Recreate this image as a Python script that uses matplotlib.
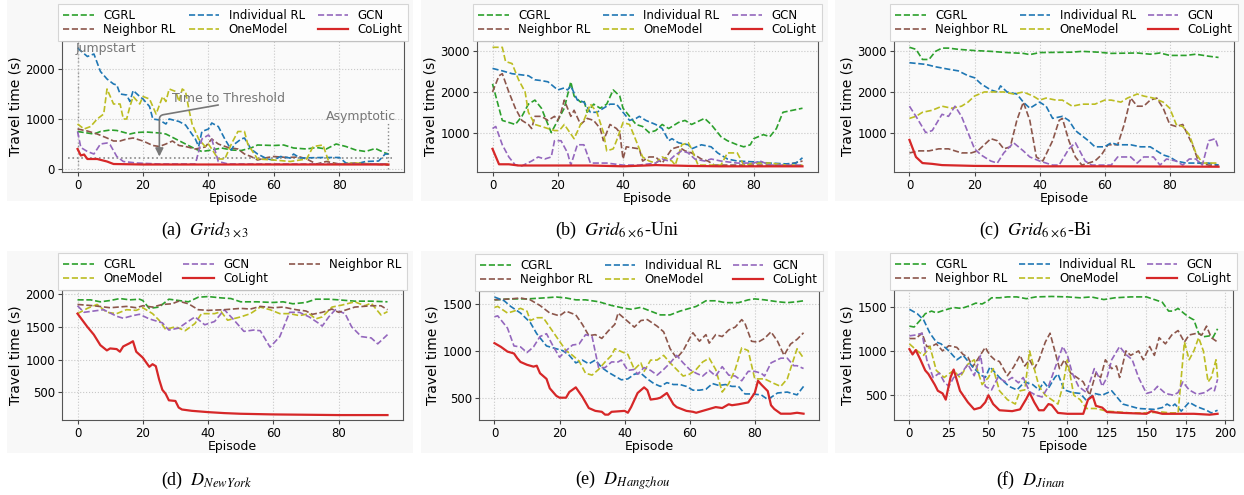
import numpy as np
import matplotlib
matplotlib.use('Agg')
import matplotlib.pyplot as plt
from matplotlib.patches import Rectangle

plt.rcParams['mathtext.fontset'] = 'stix'

# ---- data: (episode, travel time) key points ----
# (a) Grid 3x3
a_cgrl = [(0, 750), (3, 720), (5, 700), (7, 750), (10, 780), (12, 770), (16, 700), (18, 730), (21, 740),
          (25, 720), (27, 700), (30, 600), (33, 500), (36, 400), (38, 350), (41, 380), (44, 420), (47, 380),
          (50, 370), (53, 420), (55, 480), (60, 470), (63, 480), (66, 420), (70, 400), (73, 430), (76, 400),
          (79, 500), (82, 450), (85, 380), (88, 350), (91, 410), (94, 320), (95, 300)]
a_neighbor = [(0, 800), (3, 760), (6, 700), (9, 620), (11, 560), (13, 560), (15, 600), (17, 620), (20, 560),
              (23, 470), (25, 450), (27, 500), (29, 560), (31, 470), (33, 450), (36, 400), (39, 440), (41, 600),
              (43, 500), (46, 430), (49, 400), (51, 300), (53, 250), (55, 180), (58, 230), (60, 250), (64, 230),
              (68, 240), (70, 200), (73, 100), (76, 150), (80, 100), (85, 120), (90, 100), (95, 80)]
a_individual = [(0, 2420), (3, 2250), (5, 2300), (7, 1950), (9, 1800), (11, 1700), (12, 1680), (13, 1500),
                (15, 1480), (16, 1350), (17, 1570), (19, 1450), (20, 1400), (22, 1250), (23, 1000), (25, 980),
                (27, 900), (28, 1000), (31, 950), (33, 880), (36, 600), (37, 450), (38, 750), (40, 800),
                (41, 920), (43, 850), (45, 600), (47, 380), (48, 500), (50, 600), (51, 620), (53, 400),
                (55, 300), (58, 200), (60, 180), (62, 250), (65, 220), (66, 300), (68, 220), (75, 230),
                (80, 230), (82, 120), (85, 100), (88, 150), (92, 160), (94, 300), (95, 300)]
a_onemodel = [(0, 900), (2, 800), (4, 850), (6, 1000), (8, 1100), (9, 1600), (11, 1300), (13, 1300), (14, 1000),
              (15, 1000), (16, 1250), (17, 1450), (19, 1300), (20, 1450), (22, 1400), (24, 1100), (26, 1450),
              (27, 1350), (28, 1600), (30, 1550), (31, 1350), (32, 1600), (33, 1550), (34, 1200), (35, 900),
              (37, 600), (39, 450), (40, 500), (41, 400), (43, 200), (45, 200), (47, 500), (49, 750), (51, 750),
              (52, 500), (55, 200), (60, 180), (65, 150), (70, 200), (72, 450), (75, 480), (77, 100), (80, 100),
              (85, 120), (90, 100), (95, 100)]
a_gcn = [(0, 750), (1, 430), (3, 350), (5, 300), (7, 500), (9, 520), (10, 480), (12, 250), (14, 150), (18, 120),
         (25, 100), (36, 100), (38, 600), (40, 680), (41, 600), (43, 150), (46, 100), (60, 100), (95, 100)]
a_colight = [(0, 400), (1, 270), (2, 290), (3, 200), (6, 200), (9, 150), (11, 100), (20, 90), (50, 90), (95, 90)]

# (b) Grid 6x6-Uni
b_cgrl = [(0, 2200), (1, 1900), (3, 1300), (5, 1250), (7, 1200), (9, 1400), (11, 1700), (13, 1800), (15, 1600),
          (18, 1000), (20, 1300), (22, 1600), (24, 2250), (25, 1900), (27, 1750), (28, 1800), (29, 1500),
          (31, 1700), (33, 1600), (35, 1700), (37, 2050), (39, 1900), (40, 1600), (42, 1400), (44, 1200),
          (46, 1150), (48, 1000), (50, 1050), (52, 1200), (54, 1100), (57, 1250), (59, 1300), (61, 1200),
          (65, 1350), (67, 1200), (70, 900), (72, 800), (75, 700), (77, 650), (79, 700), (80, 850), (83, 950),
          (85, 900), (87, 1100), (89, 1500), (92, 1550), (95, 1600)]
b_neighbor = [(0, 2000), (2, 2400), (3, 2450), (5, 2000), (7, 1600), (9, 1300), (11, 1200), (12, 1100),
              (13, 1400), (15, 1400), (17, 1300), (19, 1400), (20, 1300), (21, 1500), (22, 1800), (24, 1400),
              (25, 1550), (27, 1200), (29, 1350), (31, 1300), (33, 1100), (34, 800), (36, 1200), (38, 1100),
              (39, 1000), (40, 350), (41, 650), (45, 600), (46, 300), (48, 400), (50, 400), (52, 250), (55, 600),
              (57, 650), (59, 550), (61, 500), (64, 350), (66, 300), (68, 200), (75, 200), (80, 200), (90, 200),
              (95, 300)]
b_individual = [(0, 2580), (3, 2520), (6, 2450), (9, 2420), (11, 2400), (13, 2300), (15, 2280), (17, 2250),
                (20, 2050), (22, 2100), (23, 2050), (24, 2150), (26, 1800), (28, 1750), (30, 1500), (32, 1500),
                (34, 1600), (36, 1700), (38, 1700), (40, 1500), (42, 1300), (44, 1350), (45, 1400), (47, 1300),
                (50, 1200), (52, 1100), (54, 800), (55, 850), (57, 750), (60, 700), (61, 600), (64, 700),
                (67, 650), (69, 500), (72, 350), (75, 300), (80, 280), (85, 250), (90, 230), (93, 250), (95, 380)]
b_onemodel = [(0, 3100), (3, 3100), (4, 2750), (6, 2700), (8, 2300), (10, 2000), (11, 1500), (13, 1200),
              (15, 1150), (17, 1100), (19, 1050), (20, 1050), (21, 1100), (22, 1200), (25, 850), (27, 1200),
              (28, 1300), (30, 1700), (32, 1500), (34, 1000), (35, 550), (37, 600), (38, 800), (40, 1250),
              (42, 1200), (44, 800), (46, 400), (48, 300), (50, 250), (52, 400), (55, 300), (56, 200), (58, 700),
              (60, 750), (61, 600), (63, 200), (70, 200), (72, 500), (75, 500), (77, 200), (80, 250), (85, 250),
              (90, 200), (95, 200)]
b_gcn = [(0, 1100), (1, 1150), (3, 700), (5, 400), (7, 200), (9, 180), (12, 300), (14, 400), (16, 350), (18, 400),
         (19, 800), (21, 800), (23, 500), (24, 200), (26, 700), (28, 700), (30, 250), (35, 250), (40, 200),
         (45, 200), (50, 250), (52, 350), (54, 300), (56, 450), (58, 550), (60, 500), (62, 350), (65, 300),
         (67, 350), (70, 300), (75, 250), (80, 250), (82, 300), (85, 200), (95, 200)]
b_colight = [(0, 600), (2, 220), (5, 220), (8, 190), (20, 190), (30, 190), (40, 170), (50, 200), (60, 180),
             (70, 170), (95, 170)]

# (c) Grid 6x6-Bi
c_cgrl = [(0, 3100), (2, 3050), (4, 2800), (6, 2800), (8, 3000), (10, 3080), (12, 3080), (15, 3050), (20, 3020),
          (25, 3000), (30, 2970), (35, 2950), (37, 2920), (40, 2970), (50, 2980), (53, 3000), (58, 2980),
          (62, 2950), (70, 2960), (74, 2930), (77, 2960), (80, 2900), (85, 2900), (88, 2930), (92, 2880), (95, 2850)]
c_neighbor = [(0, 500), (3, 550), (6, 550), (9, 600), (12, 600), (16, 500), (19, 500), (21, 550), (23, 700),
              (25, 850), (27, 800), (29, 600), (31, 650), (33, 1300), (35, 1750), (37, 1300), (39, 400), (41, 300),
              (44, 800), (46, 1300), (47, 1350), (49, 800), (51, 400), (53, 200), (55, 250), (57, 300), (59, 450),
              (61, 700), (64, 700), (66, 1200), (68, 1850), (70, 1650), (72, 1650), (74, 1800), (76, 1850),
              (78, 1600), (80, 1200), (82, 1150), (84, 1200), (87, 700), (89, 250), (92, 200), (95, 200)]
c_individual = [(0, 2720), (5, 2680), (8, 2620), (12, 2560), (15, 2520), (18, 2400), (20, 2350), (22, 2200),
                (25, 2050), (27, 2000), (28, 2150), (30, 2000), (33, 1950), (35, 1750), (37, 1600), (40, 1750),
                (42, 1650), (44, 1350), (47, 1400), (49, 1300), (51, 1050), (55, 800), (57, 650), (60, 650),
                (62, 750), (64, 700), (68, 700), (71, 650), (74, 650), (76, 550), (78, 450), (80, 400), (82, 300),
                (85, 250), (88, 250), (92, 250), (95, 200)]
c_onemodel = [(0, 1350), (2, 1400), (4, 1500), (7, 1550), (10, 1650), (13, 1600), (16, 1650), (18, 1750),
              (20, 1900), (23, 2000), (26, 2000), (29, 2000), (32, 1950), (35, 2000), (38, 1900), (40, 1800),
              (42, 1850), (45, 1800), (47, 1800), (50, 1650), (53, 1700), (57, 1700), (60, 1800), (62, 1800),
              (65, 1750), (67, 1850), (70, 1950), (72, 1900), (75, 1850), (78, 1750), (80, 1600), (82, 1200),
              (84, 1150), (86, 950), (88, 500), (90, 250), (95, 250)]
c_gcn = [(0, 1650), (2, 1400), (5, 1000), (7, 1050), (10, 1450), (12, 1400), (14, 1650), (16, 1400), (18, 1000),
         (20, 600), (22, 450), (25, 300), (27, 250), (29, 500), (32, 750), (35, 550), (37, 400), (40, 300),
         (44, 200), (46, 200), (49, 600), (51, 750), (54, 300), (56, 200), (62, 200), (64, 400), (68, 400),
         (70, 250), (72, 400), (75, 400), (77, 200), (79, 350), (82, 300), (84, 200), (86, 350), (88, 350),
         (90, 200), (92, 800), (94, 850), (95, 600)]
c_colight = [(0, 820), (2, 400), (4, 250), (7, 230), (10, 200), (20, 180), (40, 170), (60, 170), (95, 160)]

# (d) New York
d_cgrl = [(0, 1910), (4, 1910), (7, 1880), (10, 1900), (13, 1930), (16, 1910), (19, 1920), (20, 1900), (22, 1780),
          (25, 1800), (28, 1920), (31, 1900), (34, 1880), (37, 1950), (40, 1960), (44, 1940), (47, 1930),
          (50, 1880), (55, 1880), (60, 1870), (63, 1880), (66, 1850), (70, 1870), (73, 1920), (77, 1920),
          (80, 1910), (85, 1890), (90, 1890), (95, 1880)]
d_onemodel = [(0, 1700), (3, 1780), (6, 1840), (9, 1720), (12, 1700), (15, 1760), (18, 1750), (20, 1790),
              (23, 1700), (25, 1600), (27, 1460), (30, 1500), (33, 1440), (36, 1550), (38, 1700), (42, 1700),
              (44, 1730), (46, 1600), (50, 1650), (53, 1700), (56, 1800), (59, 1760), (62, 1700), (65, 1700),
              (68, 1670), (71, 1700), (73, 1620), (75, 1650), (78, 1800), (81, 1830), (85, 1880), (88, 1820),
              (90, 1860), (93, 1680), (95, 1730)]
d_gcn = [(0, 1820), (2, 1720), (5, 1740), (8, 1760), (12, 1660), (14, 1630), (17, 1670), (19, 1690), (22, 1620),
         (26, 1560), (28, 1450), (31, 1480), (33, 1550), (36, 1650), (39, 1530), (42, 1580), (45, 1760),
         (48, 1600), (51, 1430), (54, 1450), (56, 1440), (59, 1190), (62, 1350), (65, 1720), (68, 1720),
         (71, 1650), (74, 1550), (75, 1510), (77, 1650), (79, 1760), (82, 1700), (84, 1500), (87, 1350),
         (90, 1330), (92, 1240), (95, 1380)]
d_colight = [(0, 1700), (3, 1500), (5, 1380), (7, 1220), (9, 1140), (10, 1170), (12, 1160), (13, 1120),
             (14, 1200), (16, 1250), (17, 1280), (18, 1120), (20, 1030), (22, 890), (23, 930), (24, 900),
             (25, 700), (26, 540), (27, 480), (28, 380), (30, 370), (31, 270), (32, 240), (35, 220), (40, 200),
             (45, 185), (50, 175), (60, 165), (70, 160), (80, 155), (95, 155)]
d_neighbor = [(0, 1840), (5, 1820), (10, 1790), (15, 1810), (18, 1790), (20, 1820), (23, 1800), (26, 1840),
              (29, 1850), (31, 1890), (34, 1850), (37, 1760), (40, 1750), (45, 1760), (50, 1780), (53, 1770),
              (56, 1810), (60, 1790), (63, 1800), (67, 1760), (70, 1740), (72, 1690), (75, 1720), (78, 1770),
              (80, 1720), (85, 1800), (90, 1820), (93, 1820), (95, 1760)]

# (e) Hangzhou
e_cgrl = [(0, 1540), (5, 1550), (10, 1550), (15, 1560), (19, 1570), (22, 1560), (25, 1540), (28, 1540),
          (32, 1520), (36, 1480), (40, 1450), (42, 1440), (45, 1460), (48, 1420), (51, 1380), (54, 1380),
          (57, 1420), (60, 1450), (62, 1470), (65, 1530), (68, 1530), (71, 1510), (75, 1510), (78, 1540),
          (80, 1550), (83, 1540), (87, 1520), (90, 1510), (93, 1520), (95, 1530)]
e_neighbor = [(0, 1540), (5, 1550), (8, 1560), (11, 1540), (14, 1480), (17, 1400), (20, 1370), (22, 1420),
              (25, 1380), (27, 1280), (29, 1160), (31, 1170), (33, 1130), (35, 1210), (37, 1280), (38, 1400),
              (41, 1310), (43, 1250), (45, 1320), (47, 1330), (50, 1260), (52, 1200), (54, 1020), (56, 920),
              (58, 1000), (60, 1130), (61, 1190), (63, 1100), (65, 1170), (66, 1080), (68, 1170), (70, 1150),
              (72, 1220), (74, 1250), (76, 1330), (77, 1290), (79, 1100), (81, 1090), (83, 1130), (85, 1200),
              (87, 1100), (89, 950), (91, 1070), (93, 1120), (95, 1190)]
e_individual = [(0, 1570), (3, 1530), (5, 1470), (8, 1400), (11, 1300), (13, 1180), (16, 1050), (19, 1020),
                (21, 1000), (23, 950), (25, 870), (27, 900), (29, 860), (31, 900), (33, 820), (35, 770),
                (37, 730), (39, 690), (41, 700), (43, 750), (45, 760), (47, 700), (49, 650), (51, 620), (53, 660),
                (55, 640), (57, 640), (59, 620), (61, 580), (63, 580), (65, 590), (67, 650), (69, 630), (71, 640),
                (73, 620), (75, 620), (77, 540), (79, 540), (82, 530), (84, 480), (87, 550), (90, 560),
                (93, 530), (95, 620)]
e_onemodel = [(0, 1460), (1, 1470), (4, 1400), (6, 1420), (8, 1450), (10, 1420), (11, 1320), (13, 1350),
              (15, 1350), (17, 1250), (20, 1100), (22, 1000), (24, 950), (26, 890), (28, 760), (30, 740),
              (32, 800), (34, 880), (36, 950), (37, 1020), (39, 990), (41, 960), (43, 800), (45, 870), (46, 780),
              (48, 900), (50, 900), (52, 950), (54, 870), (56, 800), (58, 730), (60, 750), (62, 800), (64, 880),
              (66, 920), (68, 800), (70, 560), (72, 650), (74, 800), (76, 1030), (78, 1000), (80, 700),
              (83, 700), (86, 650), (88, 620), (90, 700), (93, 1020), (95, 920)]
e_gcn = [(0, 1360), (1, 1370), (4, 1240), (6, 1050), (8, 1040), (10, 980), (12, 1040), (14, 1150), (16, 1180),
         (18, 1050), (20, 930), (22, 1000), (24, 1060), (26, 1070), (28, 1170), (30, 1150), (32, 820), (34, 820),
         (36, 880), (38, 880), (39, 900), (41, 790), (43, 800), (44, 750), (46, 820), (48, 790), (50, 740),
         (52, 800), (54, 870), (56, 950), (58, 870), (60, 800), (62, 760), (64, 730), (66, 790), (68, 730),
         (70, 830), (72, 740), (74, 730), (76, 680), (78, 780), (80, 780), (82, 760), (83, 730), (85, 870),
         (88, 920), (90, 920), (92, 840), (93, 840), (95, 810)]
e_colight = [(0, 1080), (2, 1040), (4, 990), (6, 970), (7, 920), (8, 880), (10, 850), (12, 830), (13, 840),
             (14, 760), (16, 700), (17, 600), (19, 520), (20, 500), (22, 500), (23, 560), (25, 610), (27, 510),
             (29, 390), (31, 360), (33, 350), (34, 320), (35, 320), (36, 350), (40, 360), (41, 340), (42, 400),
             (44, 550), (46, 610), (47, 580), (48, 480), (50, 490), (51, 500), (53, 550), (55, 430), (56, 400),
             (59, 360), (61, 350), (62, 340), (64, 360), (66, 380), (68, 400), (70, 390), (72, 430), (73, 420),
             (75, 430), (78, 450), (80, 550), (81, 680), (82, 640), (84, 570), (85, 420), (86, 380), (88, 330),
             (91, 330), (93, 340), (95, 330)]

# (f) Jinan
f_cgrl = [(0, 1280), (3, 1270), (7, 1350), (10, 1420), (14, 1450), (17, 1430), (22, 1460), (28, 1490),
          (33, 1480), (38, 1510), (42, 1540), (46, 1530), (50, 1570), (52, 1600), (57, 1600), (62, 1610),
          (68, 1610), (74, 1590), (80, 1610), (90, 1615), (100, 1610), (108, 1600), (115, 1610), (123, 1580),
          (130, 1600), (140, 1610), (150, 1610), (155, 1580), (160, 1550), (164, 1450), (167, 1450),
          (170, 1480), (174, 1420), (177, 1380), (180, 1350), (183, 1200), (186, 1160), (190, 1170),
          (192, 1150), (195, 1250)]
f_neighbor = [(0, 1140), (4, 1140), (8, 1200), (11, 1050), (14, 1050), (17, 1080), (21, 1000), (25, 1060),
              (30, 1040), (34, 960), (37, 930), (40, 820), (43, 900), (48, 1040), (51, 950), (54, 900),
              (57, 880), (62, 720), (66, 820), (70, 950), (73, 830), (76, 900), (79, 800), (82, 900),
              (86, 1100), (89, 1200), (92, 1000), (95, 800), (98, 900), (102, 750), (106, 700), (110, 650),
              (114, 500), (118, 750), (121, 700), (124, 900), (128, 800), (131, 830), (133, 700), (137, 1000),
              (140, 950), (145, 1000), (148, 900), (152, 1050), (155, 950), (158, 1150), (162, 1080),
              (166, 1180), (170, 1230), (174, 1100), (177, 1180), (182, 1200), (185, 1180), (188, 1280),
              (191, 1150), (195, 1100)]
f_individual = [(0, 1470), (5, 1420), (9, 1350), (13, 1200), (17, 1100), (20, 1080), (25, 1000), (30, 900),
                (34, 950), (40, 820), (45, 730), (48, 700), (51, 820), (57, 700), (63, 600), (68, 560),
                (73, 650), (78, 620), (82, 560), (85, 650), (88, 580), (92, 700), (94, 740), (98, 560),
                (103, 530), (108, 520), (112, 440), (117, 520), (122, 500), (128, 550), (135, 400), (145, 350),
                (155, 340), (160, 360), (163, 400), (166, 370), (168, 400), (172, 320), (177, 420), (182, 370),
                (188, 330), (191, 300), (195, 330)]
f_onemodel = [(0, 1080), (5, 1000), (9, 950), (13, 1050), (17, 780), (22, 700), (28, 780), (32, 700),
              (37, 850), (41, 900), (46, 620), (50, 700), (53, 800), (57, 550), (62, 450), (67, 400), (70, 550),
              (73, 560), (76, 1000), (79, 800), (82, 600), (86, 500), (90, 450), (94, 400), (97, 600),
              (100, 900), (104, 500), (108, 450), (112, 350), (118, 350), (125, 320), (140, 300), (150, 300),
              (160, 310), (165, 300), (170, 300), (174, 1100), (177, 900), (180, 1000), (183, 1150),
              (186, 1000), (189, 650), (191, 700), (194, 900), (195, 700)]
f_gcn = [(0, 1170), (4, 1180), (8, 1200), (11, 900), (15, 700), (19, 750), (22, 650), (25, 600), (28, 700),
         (33, 750), (37, 850), (41, 720), (45, 950), (48, 600), (52, 560), (56, 700), (61, 650), (65, 700),
         (69, 640), (72, 700), (76, 540), (80, 500), (84, 480), (88, 600), (92, 800), (97, 1050), (100, 950),
         (103, 750), (107, 600), (112, 530), (117, 800), (120, 700), (122, 600), (125, 700), (128, 900),
         (133, 1050), (137, 960), (141, 900), (145, 700), (150, 520), (154, 540), (157, 600), (162, 520),
         (167, 500), (170, 530), (173, 650), (177, 560), (182, 510), (187, 530), (191, 580), (193, 550),
         (195, 680)]
f_colight = [(0, 1020), (2, 960), (4, 1010), (7, 900), (10, 780), (12, 740), (16, 620), (18, 550), (21, 520),
             (23, 450), (26, 700), (28, 790), (32, 550), (37, 420), (41, 340), (45, 360), (48, 420), (50, 500),
             (53, 400), (57, 330), (65, 320), (70, 340), (74, 460), (76, 530), (79, 420), (82, 330), (85, 330),
             (88, 400), (90, 390), (94, 300), (100, 290), (110, 290), (113, 450), (116, 490), (118, 380),
             (122, 360), (125, 310), (135, 300), (150, 290), (153, 320), (160, 290), (180, 290), (190, 280),
             (195, 290)]

STYLE = {
    'CGRL': ('tab:green', '--'),
    'Neighbor RL': ('tab:brown', '--'),
    'Individual RL': ('tab:blue', '--'),
    'OneModel': ('tab:olive', '--'),
    'GCN': ('tab:purple', '--'),
    'CoLight': ('tab:red', '-'),
}

W, H = 1244, 495
fig = plt.figure(figsize=(W / 100, H / 100), dpi=100)

# light grey backdrop behind each sub-figure
for (x0, y0, x1, y1) in [(7, 0, 413, 201), (421, 0, 828, 201), (835, 0, 1244, 201),
                         (7, 251, 413, 453), (421, 251, 828, 453), (835, 251, 1244, 453)]:
    fig.patches.append(Rectangle((x0 / W, 1 - y1 / H), (x1 - x0) / W, (y1 - y0) / H,
                                 transform=fig.transFigure, facecolor='#f8f8f8',
                                 edgecolor='none', zorder=-10))


def px_axes(left, right, top, bottom):
    return fig.add_axes([left / W, 1 - bottom / H, (right - left) / W, (bottom - top) / H])


panels = [
    dict(box=(62, 404, 41, 172), ylim=(-60, 2560), xlim=(-4.75, 99.75),
         series=[('CGRL', a_cgrl), ('Neighbor RL', a_neighbor), ('Individual RL', a_individual),
                 ('OneModel', a_onemodel), ('GCN', a_gcn), ('CoLight', a_colight)],
         caption=r'(a)  $Grid_{3\times3}$', cap=(205, 230)),
    dict(box=(477, 818, 41, 172), ylim=(30, 3255), xlim=(-4.75, 99.75),
         series=[('CGRL', b_cgrl), ('Neighbor RL', b_neighbor), ('Individual RL', b_individual),
                 ('OneModel', b_onemodel), ('GCN', b_gcn), ('CoLight', b_colight)],
         caption=r'(b)  $Grid_{6\times6}$-Uni', cap=(617, 230)),
    dict(box=(894, 1234, 41, 172), ylim=(30, 3255), xlim=(-4.75, 99.75),
         series=[('CGRL', c_cgrl), ('Neighbor RL', c_neighbor), ('Individual RL', c_individual),
                 ('OneModel', c_onemodel), ('GCN', c_gcn), ('CoLight', c_colight)],
         caption=r'(c)  $Grid_{6\times6}$-Bi', cap=(1035, 230)),
    dict(box=(62, 403, 290, 420), ylim=(80, 2060), xlim=(-4.75, 99.75),
         series=[('CGRL', d_cgrl), ('OneModel', d_onemodel), ('GCN', d_gcn),
                 ('CoLight', d_colight), ('Neighbor RL', d_neighbor)],
         caption=r'(d)  $D_{NewYork}$', cap=(207, 480)),
    dict(box=(479, 819, 291, 420), ylim=(263, 1634), xlim=(-4.75, 99.75),
         series=[('CGRL', e_cgrl), ('Neighbor RL', e_neighbor), ('Individual RL', e_individual),
                 ('OneModel', e_onemodel), ('GCN', e_gcn), ('CoLight', e_colight)],
         caption=r'(e)  $D_{Hangzhou}$', cap=(623, 480)),
    dict(box=(894, 1233, 290, 420), ylim=(220, 1688), xlim=(-9.75, 204.75),
         series=[('CGRL', f_cgrl), ('Neighbor RL', f_neighbor), ('Individual RL', f_individual),
                 ('OneModel', f_onemodel), ('GCN', f_gcn), ('CoLight', f_colight)],
         caption=r'(f)  $D_{Jinan}$', cap=(1031, 480)),
]

axes = []
for p in panels:
    ax = px_axes(*p['box'])
    ax.set_facecolor('#fafafa')
    for name, pts in p['series']:
        xs, ys = np.array(pts).T
        color, ls = STYLE[name]
        ax.plot(xs, ys, ls, color=color, lw=1.6 if ls == '-' else 1.2, label=name,
                zorder=3 if ls == '-' else 2)
    ax.set_xlim(*p['xlim'])
    ax.set_ylim(*p['ylim'])
    ax.grid(True, linestyle=':', color='#c8c8c8', linewidth=0.8)
    ax.set_xlabel('Episode', fontsize=9, labelpad=0)
    ax.set_ylabel('Travel time (s)', fontsize=10, labelpad=2)
    ax.tick_params(labelsize=8.5, length=3, pad=2, color='#444444')
    for s in ax.spines.values():
        s.set_color('#555555')
    # legend box sits ~4 px above the axes top
    ah = p['box'][3] - p['box'][2]
    leg = ax.legend(loc='lower left', bbox_to_anchor=(0, 1 + 4 / ah, 1, 0.1), mode='expand', ncol=3,
                    fontsize=8.5, frameon=True, borderpad=0.1, labelspacing=0.1,
                    handlelength=2.6, columnspacing=1.0, borderaxespad=0, handletextpad=0.8)
    leg.get_frame().set_edgecolor('#cccccc')
    leg.get_frame().set_linewidth(0.8)
    leg.get_frame().set_boxstyle('square')
    fig.text(p['cap'][0] / W, 1 - p['cap'][1] / H, p['caption'], ha='center', va='center',
             fontsize=13, family='Liberation Serif')
    axes.append(ax)

# annotations on the Grid 3x3 panel
ax = axes[0]
thresh = 230
ax.plot([-3, 96], [thresh, thresh], ':', color='#888888', lw=1.2, zorder=1)
ax.plot([0, 0], [0, 2560], ':', color='#888888', lw=1.0, zorder=1)
ax.plot([95, 95], [0, 950], ':', color='#888888', lw=1.0, zorder=1)
ax.text(-0.5, 2420, 'Jumpstart', color='#777777', fontsize=9, ha='left', va='center')
ax.text(97.5, 1050, 'Asymptotic', color='#777777', fontsize=9, ha='right', va='center')
ax.text(46, 1400, 'Time to Threshold', color='#777777', fontsize=9, ha='center', va='center')
ax.annotate('', xy=(25, 250), xytext=(43, 1280),
            arrowprops=dict(arrowstyle='-|>', color='#777777', lw=1.2,
                            connectionstyle='angle,angleA=10,angleB=90,rad=4',
                            shrinkA=0, shrinkB=0, mutation_scale=12))

fig.savefig('out.png', dpi=100)
